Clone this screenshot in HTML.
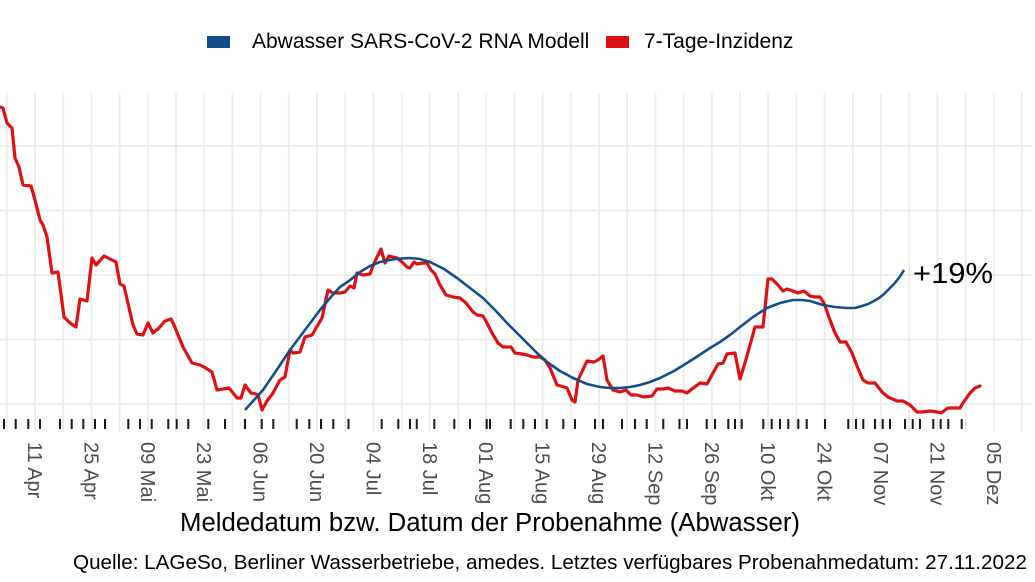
<!DOCTYPE html>
<html><head><meta charset="utf-8"><style>
html,body{margin:0;padding:0;background:#fff;}
svg{display:block;}
</style></head><body>
<svg width="1035" height="582" viewBox="0 0 1035 582" xmlns="http://www.w3.org/2000/svg" font-family="'Liberation Sans', Arial, sans-serif">
<rect width="1035" height="582" fill="#fff"/>
<!-- horizontal gridlines -->
<g stroke="#ebebeb" stroke-width="1.8">
<line x1="0" y1="146" x2="1032" y2="146"/>
<line x1="0" y1="210.5" x2="1032" y2="210.5"/>
<line x1="0" y1="275" x2="1032" y2="275"/>
<line x1="0" y1="339.5" x2="1032" y2="339.5"/>
<line x1="0" y1="404" x2="1032" y2="404"/>
</g>
<!-- vertical gridlines -->
<g stroke="#ebebeb" stroke-width="1.8">
<line x1="6.8" y1="93" x2="6.8" y2="432"/>
<line x1="35" y1="93" x2="35" y2="432"/>
<line x1="63.2" y1="93" x2="63.2" y2="432"/>
<line x1="91.4" y1="93" x2="91.4" y2="432"/>
<line x1="119.6" y1="93" x2="119.6" y2="432"/>
<line x1="147.8" y1="93" x2="147.8" y2="432"/>
<line x1="176" y1="93" x2="176" y2="432"/>
<line x1="204.2" y1="93" x2="204.2" y2="432"/>
<line x1="232.4" y1="93" x2="232.4" y2="432"/>
<line x1="260.6" y1="93" x2="260.6" y2="432"/>
<line x1="288.8" y1="93" x2="288.8" y2="432"/>
<line x1="317" y1="93" x2="317" y2="432"/>
<line x1="345.2" y1="93" x2="345.2" y2="432"/>
<line x1="373.4" y1="93" x2="373.4" y2="432"/>
<line x1="401.6" y1="93" x2="401.6" y2="432"/>
<line x1="429.8" y1="93" x2="429.8" y2="432"/>
<line x1="458" y1="93" x2="458" y2="432"/>
<line x1="486.2" y1="93" x2="486.2" y2="432"/>
<line x1="514.4" y1="93" x2="514.4" y2="432"/>
<line x1="542.6" y1="93" x2="542.6" y2="432"/>
<line x1="570.8" y1="93" x2="570.8" y2="432"/>
<line x1="599" y1="93" x2="599" y2="432"/>
<line x1="627.2" y1="93" x2="627.2" y2="432"/>
<line x1="655.4" y1="93" x2="655.4" y2="432"/>
<line x1="683.6" y1="93" x2="683.6" y2="432"/>
<line x1="711.8" y1="93" x2="711.8" y2="432"/>
<line x1="740" y1="93" x2="740" y2="432"/>
<line x1="768.2" y1="93" x2="768.2" y2="432"/>
<line x1="796.4" y1="93" x2="796.4" y2="432"/>
<line x1="824.6" y1="93" x2="824.6" y2="432"/>
<line x1="852.8" y1="93" x2="852.8" y2="432"/>
<line x1="881" y1="93" x2="881" y2="432"/>
<line x1="909.2" y1="93" x2="909.2" y2="432"/>
<line x1="937.4" y1="93" x2="937.4" y2="432"/>
<line x1="965.6" y1="93" x2="965.6" y2="432"/>
<line x1="993.8" y1="93" x2="993.8" y2="432"/>
<line x1="1022" y1="93" x2="1022" y2="432"/>
</g>
<!-- rug ticks -->
<g stroke="#1a1a1a" stroke-width="2">
<line x1="4" y1="419" x2="4" y2="429"/><line x1="15.7" y1="419" x2="15.7" y2="429"/><line x1="28.3" y1="419" x2="28.3" y2="429"/><line x1="40" y1="419" x2="40" y2="429"/>
<line x1="60" y1="419" x2="60" y2="429"/><line x1="71.7" y1="419" x2="71.7" y2="429"/><line x1="83.3" y1="419" x2="83.3" y2="429"/><line x1="95" y1="419" x2="95" y2="429"/><line x1="105" y1="419" x2="105" y2="429"/>
<line x1="128.3" y1="419" x2="128.3" y2="429"/><line x1="140" y1="419" x2="140" y2="429"/><line x1="151.7" y1="419" x2="151.7" y2="429"/><line x1="168.3" y1="419" x2="168.3" y2="429"/><line x1="176.7" y1="419" x2="176.7" y2="429"/><line x1="188.3" y1="419" x2="188.3" y2="429"/>
<line x1="208.3" y1="419" x2="208.3" y2="429"/><line x1="225" y1="419" x2="225" y2="429"/><line x1="245" y1="419" x2="245" y2="429"/><line x1="261.7" y1="419" x2="261.7" y2="429"/><line x1="273.3" y1="419" x2="273.3" y2="429"/>
<line x1="296.7" y1="419" x2="296.7" y2="429"/><line x1="309.3" y1="419" x2="309.3" y2="429"/><line x1="321" y1="419" x2="321" y2="429"/><line x1="333.3" y1="419" x2="333.3" y2="429"/><line x1="348.5" y1="419" x2="348.5" y2="429"/>
<line x1="381.7" y1="419" x2="381.7" y2="429"/><line x1="398.3" y1="419" x2="398.3" y2="429"/><line x1="410" y1="419" x2="410" y2="429"/><line x1="416.7" y1="419" x2="416.7" y2="429"/><line x1="434.3" y1="419" x2="434.3" y2="429"/>
<line x1="454.3" y1="419" x2="454.3" y2="429"/><line x1="470" y1="419" x2="470" y2="429"/><line x1="486.7" y1="419" x2="486.7" y2="429"/><line x1="490" y1="419" x2="490" y2="429"/><line x1="510.7" y1="419" x2="510.7" y2="429"/>
<line x1="523.3" y1="419" x2="523.3" y2="429"/><line x1="535" y1="419" x2="535" y2="429"/><line x1="546.7" y1="419" x2="546.7" y2="429"/><line x1="563.3" y1="419" x2="563.3" y2="429"/><line x1="575" y1="419" x2="575" y2="429"/>
<line x1="595" y1="419" x2="595" y2="429"/><line x1="603" y1="419" x2="603" y2="429"/><line x1="622" y1="419" x2="622" y2="429"/><line x1="635" y1="419" x2="635" y2="429"/><line x1="646.7" y1="419" x2="646.7" y2="429"/>
<line x1="663.3" y1="419" x2="663.3" y2="429"/><line x1="679.5" y1="419" x2="679.5" y2="429"/><line x1="687" y1="419" x2="687" y2="429"/>
<line x1="706.7" y1="419" x2="706.7" y2="429"/><line x1="715" y1="419" x2="715" y2="429"/><line x1="728.3" y1="419" x2="728.3" y2="429"/><line x1="735" y1="419" x2="735" y2="429"/><line x1="741.7" y1="419" x2="741.7" y2="429"/>
<line x1="763.3" y1="419" x2="763.3" y2="429"/><line x1="771.7" y1="419" x2="771.7" y2="429"/><line x1="780" y1="419" x2="780" y2="429"/><line x1="788.3" y1="419" x2="788.3" y2="429"/><line x1="798.3" y1="419" x2="798.3" y2="429"/><line x1="806.7" y1="419" x2="806.7" y2="429"/>
<line x1="825" y1="419" x2="825" y2="429"/><line x1="848.3" y1="419" x2="848.3" y2="429"/><line x1="856" y1="419" x2="856" y2="429"/><line x1="863.3" y1="419" x2="863.3" y2="429"/><line x1="875" y1="419" x2="875" y2="429"/>
<line x1="882.7" y1="419" x2="882.7" y2="429"/><line x1="890" y1="419" x2="890" y2="429"/><line x1="905" y1="419" x2="905" y2="429"/><line x1="912.7" y1="419" x2="912.7" y2="429"/><line x1="920" y1="419" x2="920" y2="429"/>
<line x1="933.3" y1="419" x2="933.3" y2="429"/><line x1="940.7" y1="419" x2="940.7" y2="429"/><line x1="948.3" y1="419" x2="948.3" y2="429"/><line x1="961.7" y1="419" x2="961.7" y2="429"/>
</g>
<!-- red incidence line -->
<polyline fill="none" stroke="#dd1111" stroke-width="3.2" stroke-linejoin="round" stroke-linecap="round" points="0,107 3,108 7,123 12,128 15,158 19,167 23,185 31,186 35,200 40,220 43,225 47,237 52,273 58,272 64,317 70,323 76,327 80,299 87,301 92,258 96,265 104,256 110,259 116,262 120,284 124,286 133,325 137,334 143,335 148,323 153,333 159,328 165,321 171,319 174,325 183,347 192,363 200,365 204,367 212,372 217,390 223,389 229,388 237,398 241,398 245,385 251,393 256,394 258,395 262,410 267,401 273,393 280,380 285,377 290,350 293,353 300,352 305,337 312,335 322,318 328,290 333,293 340,293 345,292 350,286 354,288 357,273 363,275 370,274 373,266 377,257 381,249 385,263 389,256 397,258 402,262 407,267 410,268 414,262 417,264 423,263 427,263 431,270 435,274 440,285 446,295 453,297 460,298 466,303 473,312 477,315 483,316 487,323 492,333 498,343 503,347 511,347 515,353 522,354 527,355 533,357 540,357 545,360 550,368 557,385 564,387 567,388 572,400 575,402 578,380 587,361 594,362 598,360 603,356 607,380 613,390 620,392 626,390 631,395 637,395 644,397 652,396 657,389 663,389 668,388 675,391 682,391 687,393 692,389 700,383 707,384 713,373 718,364 723,363 727,354 735,353 740,379 745,363 750,345 755,327 763,327 768,279 772,279 778,285 783,291 787,289 793,291 798,293 804,291 810,296 815,297 820,297 824,303 830,320 835,333 840,342 846,342 852,353 857,366 863,380 868,383 875,383 882,392 888,397 897,401 903,401 910,405 917,412 922,412 930,411 937,412 941,413 948,408 960,408 963,403 970,393 975,388 980,386"/>
<!-- blue model line -->
<polyline fill="none" stroke="#124d8c" stroke-width="2.6" stroke-linejoin="round" stroke-linecap="butt" points="245,410 254,400 263,390 276,371 290,350 305,330 320,310 330,298 340,287 349,281 360,272 370,266 380,262 395,259 410,258 420,259 430,262 444,269 457,278 470,288 483,298 495,310 507,323 517,333 527,343 537,353 547,362 560,371 573,378 587,384 600,387 610,388 620,388 630,387 640,385 650,382 660,378 674,371 687,363 698,356 710,348 720,342 730,335 740,327 753,317 767,308 780,303 793,300 802,300 810,301 823,305 835,307 847,308 855,308 862,306 868,304 874,301 879,298 884,294 889,289 894,284 898,279 901,275 904,270"/>
<!-- annotation -->
<text x="913" y="283" font-size="29" fill="#000" textLength="80" lengthAdjust="spacingAndGlyphs">+19%</text>
<!-- legend -->
<rect x="207" y="36" width="23" height="12" fill="#124d8c"/>
<text x="252" y="48" font-size="21" fill="#000">Abwasser SARS-CoV-2 RNA Modell</text>
<rect x="606" y="36" width="23" height="12" fill="#dd1111"/>
<text x="644" y="48" font-size="21" fill="#000">7-Tage-Inzidenz</text>
<!-- x tick labels -->
<g font-size="20" fill="#4d4d4d">
<text transform="translate(28,442) rotate(90)">11 Apr</text>
<text transform="translate(84.4,442) rotate(90)">25 Apr</text>
<text transform="translate(140.8,442) rotate(90)">09 Mai</text>
<text transform="translate(197.2,442) rotate(90)">23 Mai</text>
<text transform="translate(253.6,442) rotate(90)">06 Jun</text>
<text transform="translate(310,442) rotate(90)">20 Jun</text>
<text transform="translate(366.4,442) rotate(90)">04 Jul</text>
<text transform="translate(422.8,442) rotate(90)">18 Jul</text>
<text transform="translate(479.2,442) rotate(90)">01 Aug</text>
<text transform="translate(535.6,442) rotate(90)">15 Aug</text>
<text transform="translate(592,442) rotate(90)">29 Aug</text>
<text transform="translate(648.4,442) rotate(90)">12 Sep</text>
<text transform="translate(704.8,442) rotate(90)">26 Sep</text>
<text transform="translate(761.2,442) rotate(90)">10 Okt</text>
<text transform="translate(817.6,442) rotate(90)">24 Okt</text>
<text transform="translate(874,442) rotate(90)">07 Nov</text>
<text transform="translate(930.4,442) rotate(90)">21 Nov</text>
<text transform="translate(986.8,442) rotate(90)">05 Dez</text>
</g>
<!-- axis title -->
<text x="180" y="531" font-size="25.5" fill="#000" textLength="620" lengthAdjust="spacingAndGlyphs">Meldedatum bzw. Datum der Probenahme (Abwasser)</text>
<!-- caption -->
<text x="73" y="569" font-size="20.6" fill="#000" textLength="954" lengthAdjust="spacingAndGlyphs">Quelle: LAGeSo, Berliner Wasserbetriebe, amedes. Letztes verfügbares Probenahmedatum: 27.11.2022</text>
</svg>
</body></html>
